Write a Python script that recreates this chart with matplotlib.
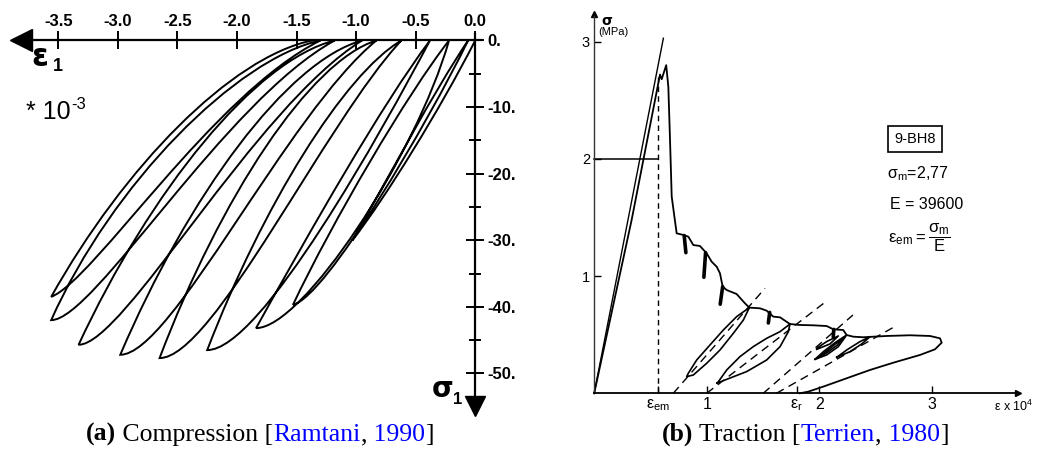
import matplotlib
matplotlib.use("Agg")
import matplotlib.pyplot as plt
from matplotlib.path import Path
from matplotlib.patches import PathPatch

plt.rcParams['font.family'] = ['Liberation Sans', 'DejaVu Sans']
plt.rcParams['mathtext.fontset'] = 'dejavusans'
plt.rcParams['mathtext.default'] = 'regular'

# ---------------- (a) compression cycles, strain *1e-3, stress MPa
xticks_a = [-3.5, -3.0, -2.5, -2.0, -1.5, -1.0, -0.5, 0.0]
yticks_a = [0, -10, -20, -30, -40, -50]
yminor_a = [-5, -15, -25, -35, -45]

start = (0.0, 0.0)
first_c1 = (-0.30, -10.5)
first_c2 = (-0.75, -23.5)
# peaks of each cycle (in loading order) and residual strain after unloading
tip_e = [-1.03, -1.53, -1.84, -2.25, -2.65, -2.98, -3.33, -3.56, -3.56]
tip_s = [-30.0, -39.7, -43.2, -46.5, -47.7, -47.2, -45.7, -42.0, -38.5]
res_e = [-0.06, -0.22, -0.38, -0.62, -0.83, -0.95, -1.18, -1.30, -1.37]
# bezier handles of unloading branches (peak -> residual)
unl_c1 = [(-0.71, -20.0), (-1.20, -27.2), (-1.39, -28.7), (-1.79, -25.0), (-2.14, -23.6),
          (-2.41, -23.3), (-2.73, -22.6), (-3.05, -21.5), (-2.95, -19.0)]
unl_c2 = [(-0.36, -8.0), (-0.57, -8.0), (-0.78, -9.5), (-1.10, -5.0), (-1.39, -3.1),
          (-1.58, -3.1), (-1.85, -3.0), (-2.00, -2.7), (-2.05, -2.5)]
# bezier handles of reloading branches (residual -> next peak)
rel_c1 = [(-0.40, -12.5), (-0.50, -17.5), (-0.78, -13.5), (-1.25, -12.0), (-1.58, -11.0),
          (-1.85, -10.0), (-2.10, -9.0), (-2.20, -8.0)]
rel_c2 = [(-1.25, -38.5), (-1.45, -43.2), (-1.80, -46.5), (-2.20, -47.7), (-2.55, -47.2),
          (-2.95, -45.7), (-3.20, -42.0), (-3.20, -36.0)]

# ---------------- (b) traction, strain *1e-4, stress MPa
xt_b = [0.57, 1, 1.80, 2, 3]
xt_b_lab = [r'$\varepsilon_{em}$', '1', r'$\varepsilon_r$', '2', '3']
yt_b = [1, 2, 3]

tan_e = [0.0, 0.615]
tan_s = [0.0, 3.03]

main_e = [0.0, 0.333, 0.585, 0.600, 0.640, 0.659, 0.674, 0.689, 0.733, 0.792, 0.837, 0.881,
          0.940, 1.000, 1.044, 1.089, 1.118, 1.142, 1.178, 1.266, 1.340, 1.379, 1.474, 1.533,
          1.592, 1.652, 1.740, 1.829, 1.948, 2.066, 2.126, 2.214, 2.244, 2.303, 2.392, 2.481,
          2.600, 2.807, 2.985, 3.074, 3.089, 3.029, 2.896, 2.659, 2.452, 2.244, 2.037, 1.903, 1.829]
main_s = [0.0, 1.48, 2.72, 2.68, 2.80, 2.616, 2.162, 1.678, 1.365, 1.351, 1.336, 1.265,
          1.257, 1.194, 1.123, 1.080, 1.024, 0.910, 0.881, 0.847, 0.768, 0.731, 0.725, 0.705,
          0.654, 0.648, 0.591, 0.583, 0.580, 0.574, 0.546, 0.540, 0.497, 0.483, 0.478, 0.483,
          0.489, 0.495, 0.489, 0.469, 0.432, 0.375, 0.327, 0.261, 0.199, 0.128, 0.057, 0.014, 0.0]

leaf1_e = [1.379, 1.266, 1.148, 1.029, 0.911, 0.837, 0.822, 0.881, 1.000, 1.118, 1.237, 1.326, 1.379]
leaf1_s = [0.731, 0.654, 0.540, 0.412, 0.284, 0.171, 0.142, 0.156, 0.256, 0.369, 0.512, 0.625, 0.731]
leaf2_e = [1.740, 1.652, 1.533, 1.414, 1.296, 1.178, 1.104, 1.089, 1.178, 1.355, 1.533, 1.652, 1.726, 1.740]
leaf2_s = [0.591, 0.526, 0.469, 0.398, 0.313, 0.199, 0.099, 0.085, 0.119, 0.185, 0.284, 0.398, 0.526, 0.591]
loopa_e = [1.978, 2.066, 2.170, 2.096, 1.978]
loopa_s = [0.384, 0.441, 0.489, 0.421, 0.375]
loopb_e = [1.963, 2.037, 2.141, 2.244, 2.170, 2.066, 1.963]
loopb_s = [0.290, 0.355, 0.432, 0.497, 0.398, 0.327, 0.290]
loopb2_e = [1.985, 2.050, 2.150, 2.230, 2.160, 2.060, 1.985]
loopb2_s = [0.300, 0.350, 0.425, 0.485, 0.410, 0.340, 0.300]
loopc_e = [2.156, 2.244, 2.363, 2.452, 2.378, 2.274, 2.156]
loopc_s = [0.307, 0.369, 0.441, 0.483, 0.421, 0.355, 0.307]

hang_e0 = [0.800, 0.990, 1.142, 1.560, 2.130]
hang_s0 = [1.346, 1.200, 0.910, 0.690, 0.545]
hang_e1 = [0.815, 0.975, 1.120, 1.548, 2.125]
hang_s1 = [1.200, 0.990, 0.760, 0.600, 0.480]

dash_e0 = [0.703, 1.000, 1.503, 1.620]
dash_e1 = [1.518, 2.040, 2.300, 2.670]
dash_s1 = [0.896, 0.768, 0.668, 0.568]
e_em = 0.57
e_em_top = 2.70

W, H = 1037, 449
fig = plt.figure(figsize=(W / 100, H / 100), dpi=100)

# ======== left panel
ax1 = fig.add_axes([0, 29 / H, 530 / W, 420 / H])
ax1.set_xlim(-3.99, 0.46)
ax1.set_ylim(-57.0, 6.08)
ax1.patch.set_alpha(0)

verts = [start, first_c1, first_c2, (tip_e[0], tip_s[0])]
for k in range(len(tip_e)):
    verts += [unl_c1[k], unl_c2[k], (res_e[k], 0.0)]
    if k < len(tip_e) - 1:
        verts += [rel_c1[k], rel_c2[k], (tip_e[k + 1], tip_s[k + 1])]
codes = [Path.MOVETO] + [Path.CURVE4] * (len(verts) - 1)
ax1.add_patch(PathPatch(Path(verts, codes), fill=False, lw=1.4, ec='k', capstyle='round'))

for s in ['left', 'bottom']:
    ax1.spines[s].set_visible(False)
ax1.spines['top'].set_position(('data', 0))
ax1.spines['right'].set_position(('data', 0))
ax1.spines['top'].set_bounds(-3.85, 0.05)
ax1.spines['right'].set_bounds(-54.5, 1.0)
ax1.spines['top'].set_linewidth(1.6)
ax1.spines['right'].set_linewidth(1.6)

ax1.set_xticks(xticks_a)
ax1.set_xticklabels([f'{v:.1f}' for v in xticks_a])
ax1.set_yticks(yticks_a)
ax1.set_yticklabels([f'{v:d}.' for v in yticks_a])
ax1.set_yticks(yminor_a, minor=True)
ax1.tick_params(axis='x', top=True, bottom=False, labeltop=True, labelbottom=False,
                direction='inout', length=13, width=1.4, pad=2, labelsize=12)
ax1.tick_params(axis='y', which='both', right=True, left=False, labelright=True, labelleft=False,
                direction='inout', width=1.4, pad=2, labelsize=12)
ax1.tick_params(axis='y', which='major', length=13)
ax1.tick_params(axis='y', which='minor', length=9)
for lab in ax1.get_xticklabels() + ax1.get_yticklabels():
    lab.set_fontweight('bold')

ax1.plot([-3.81], [0], marker='<', ms=16, color='k', clip_on=False)
ax1.plot([0], [-54.9], marker='v', ms=15, color='k', clip_on=False)

ax1.text(-3.652, -2.5, 'ε', fontsize=22, fontweight='bold', ha='center', va='center',
         family=['DejaVu Sans'])
ax1.text(-3.50, -3.9, '1', fontsize=13, fontweight='bold', ha='center', va='center')
ax1.text(-0.27, -52.3, 'σ', fontsize=20, fontweight='bold', ha='center', va='center',
         family=['DejaVu Sans'])
ax1.text(-0.145, -53.9, '1', fontsize=12, fontweight='bold', ha='center', va='center')
t10 = ax1.text(-3.77, -11.8, '* 10', fontsize=18, ha='left', va='baseline')
ax1.annotate('-3', xy=(1.0, 0.82), xycoords=t10, fontsize=12, ha='left', va='center')

# ======== right panel
ax2 = fig.add_axes([560 / W, 29 / H, 470 / W, 420 / H])
ax2.set_xlim(-0.304, 3.874)
ax2.set_ylim(-0.228, 3.356)
ax2.patch.set_alpha(0)

ax2.plot(tan_e, tan_s, color='k', lw=1.0)
ax2.plot(main_e, main_s, color='k', lw=1.3)
for le, ls in [(leaf1_e, leaf1_s), (leaf2_e, leaf2_s), (loopa_e, loopa_s),
               (loopb_e, loopb_s), (loopb2_e, loopb2_s), (loopc_e, loopc_s)]:
    ax2.plot(le, ls, color='k', lw=1.2)
for k in range(len(hang_e0)):
    ax2.plot([hang_e0[k], hang_e1[k]], [hang_s0[k], hang_s1[k]], color='k', lw=2.6,
             solid_capstyle='round')
for k in range(len(dash_e0)):
    ax2.plot([dash_e0[k], dash_e1[k]], [0, dash_s1[k]], color='k', lw=1.0, ls=(0, (6, 4)))
ax2.plot([e_em, e_em], [0, e_em_top], color='k', lw=1.0, ls=(0, (4, 3)))
ax2.plot([0, e_em], [2, 2], color='k', lw=1.1)

for s in ['top', 'right']:
    ax2.spines[s].set_visible(False)
ax2.spines['left'].set_position(('data', 0))
ax2.spines['bottom'].set_position(('data', 0))
ax2.spines['left'].set_bounds(0, 3.22)
ax2.spines['bottom'].set_bounds(0, 3.76)
ax2.spines['left'].set_linewidth(1.0)
ax2.spines['left'].set_color('#333333')
ax2.spines['bottom'].set_linewidth(1.3)
ax2.plot([0], [3.24], marker='^', ms=5, color='k', clip_on=False)
ax2.plot([3.77], [0], marker='>', ms=5, color='k', clip_on=False)

ax2.set_xticks(xt_b)
ax2.set_xticklabels(xt_b_lab)
ax2.set_yticks(yt_b)
ax2.set_yticklabels([str(v) for v in yt_b])
ax2.tick_params(axis='both', direction='in', length=5, width=1.0, labelsize=10.5, pad=3)
ax2.tick_params(axis='x', labelsize=11.5)

ax2.text(0.06, 3.18, 'σ', fontsize=10, fontweight='bold', ha='left', va='center',
         family=['DejaVu Sans'])
ax2.text(0.04, 3.08, '(MPa)', fontsize=8, ha='left', va='center')
ax2.text(3.55, -0.11, r'ε x 10$^4$', fontsize=9, ha='left', va='center')

ax2.text(2.852, 2.170, '9-BH8', fontsize=10.5, ha='center', va='center',
         bbox=dict(boxstyle='square,pad=0.4', fc='white', ec='k', lw=1.2))
ax2.text(2.60, 1.871, r'$\sigma_m$=2,77', fontsize=11.5, ha='left', va='center')
ax2.text(2.627, 1.615, 'E = 39600', fontsize=11.5, ha='left', va='center')
ax2.text(2.609, 1.33, r'$\varepsilon_{em} = \dfrac{\sigma_m}{E}$', fontsize=12, ha='left',
         va='center')

# ======== captions
def caption(x, parts):
    prev = None
    for txt, weight, color in parts:
        kw = dict(fontsize=18.5, family=['Liberation Serif', 'DejaVu Serif'], fontweight=weight,
                  color=color, va='bottom', ha='left')
        if prev is None:
            prev = fig.text(x / W, 3 / H, txt, **kw)
        else:
            prev = ax1.annotate(txt, xy=(1, 0), xycoords=prev, annotation_clip=False, **kw)

blue = '#0000ff'
caption(86, [('(a)', 'bold', 'k'), (' Compression [', 'normal', 'k'), ('Ramtani', 'normal', blue),
             (',', 'normal', 'k'), (' 1990', 'normal', blue), (']', 'normal', 'k')])
caption(662, [('(b)', 'bold', 'k'), (' Traction [', 'normal', 'k'), ('Terrien', 'normal', blue),
              (',', 'normal', 'k'), (' 1980', 'normal', blue), (']', 'normal', 'k')])

fig.savefig('out.png', dpi=100)
plt.close(fig)
